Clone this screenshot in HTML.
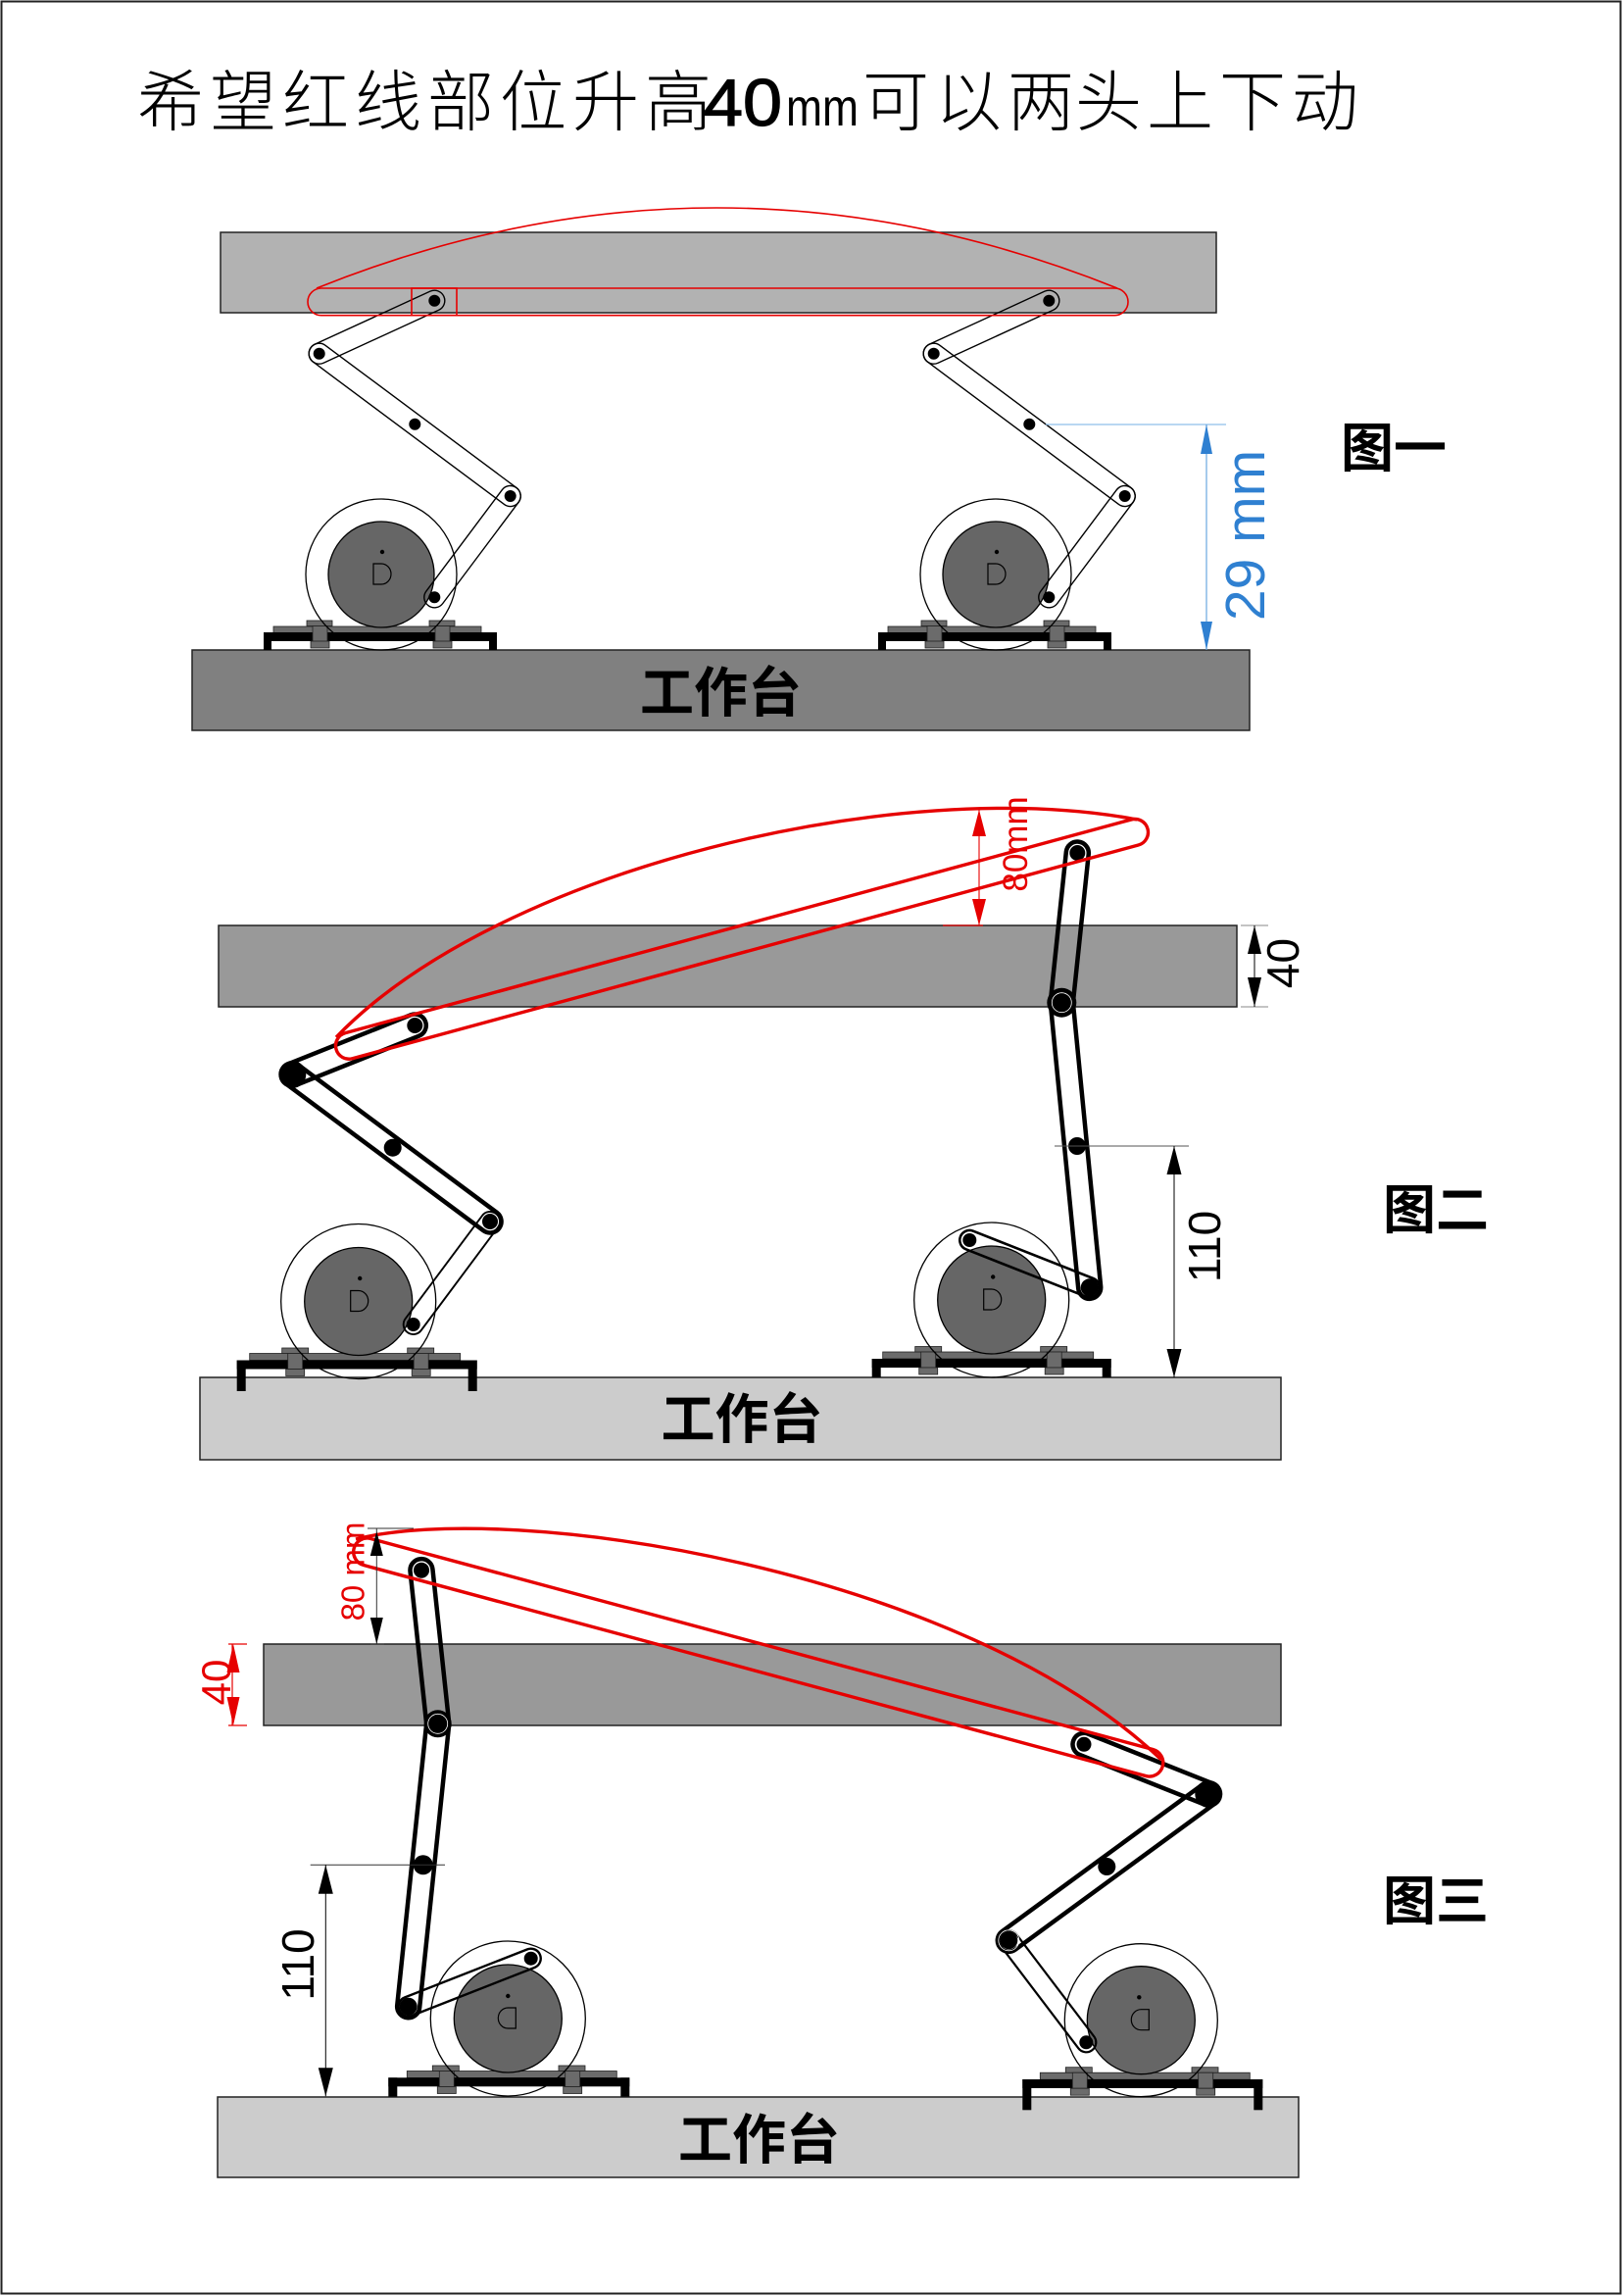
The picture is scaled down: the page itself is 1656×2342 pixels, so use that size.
<!DOCTYPE html>
<html><head><meta charset="utf-8">
<style>html,body{margin:0;padding:0;background:#fff}svg{display:block}</style>
</head>
<body>
<svg xmlns="http://www.w3.org/2000/svg" width="1656" height="2342" viewBox="0 0 1656 2342">
<rect width="1656" height="2342" fill="#fff"/>
<rect x="1.5" y="1.5" width="1652" height="2338" fill="none" stroke="#222" stroke-width="2"/>

<!-- TITLE -->
<g font-family="'Liberation Sans','Noto Sans CJK SC',sans-serif" fill="#000">
<text x="140 214 288 362 436 510 584 658" y="128" font-size="68" font-weight="300">希望红线部位升高</text>
<text x="718" y="128" font-size="68" font-weight="normal" textLength="80" lengthAdjust="spacingAndGlyphs" stroke="#000" stroke-width="1.2">40</text>
<text x="802" y="128" font-size="54" textLength="74" lengthAdjust="spacingAndGlyphs">mm</text>
<text x="880 954 1028 1097 1170 1244 1318" y="128" font-size="68" font-weight="300">可以两头上下动</text>
</g>

<!-- ================= FIG 1 ================= -->
<rect x="225" y="237" width="1016" height="82" fill="#b2b2b2" stroke="#222" stroke-width="1.5"/>
<rect x="196" y="663" width="1079" height="82" fill="#808080" stroke="#222" stroke-width="1.5"/>

<!-- wheels fig1 -->
<g transform="translate(389,586)">
 <rect x="-110" y="53" width="212" height="7" fill="#6b6b6b" stroke="#222" stroke-width="0.8"/>
 <circle r="54" fill="#666" stroke="#000" stroke-width="1.3"/>
 <circle cx="1" cy="-23" r="2.2"/>
 <path d="M-8,-11 H0 A10 10.5 0 0 1 0,10 H-8 Z" fill="none" stroke="#000" stroke-width="1.2"/>
 <rect x="-120" y="59" width="238" height="9" fill="#000"/>
 <rect x="-120" y="59" width="8" height="18" fill="#000"/>
 <rect x="110" y="59" width="8" height="18" fill="#000"/>
 <g fill="#6b6b6b" stroke="#222" stroke-width="0.8">
  <rect x="-76" y="47" width="26" height="5.5"/><rect x="-70" y="52.5" width="15" height="16"/><rect x="-72" y="68" width="19" height="7"/>
  <rect x="49" y="47" width="26" height="5.5"/><rect x="55" y="52.5" width="15" height="16"/><rect x="53" y="68" width="19" height="7"/>
 </g>
 <circle r="77" fill="none" stroke="#000" stroke-width="1.3"/>
</g>
<g transform="translate(1016,586)">
 <rect x="-110" y="53" width="212" height="7" fill="#6b6b6b" stroke="#222" stroke-width="0.8"/>
 <circle r="54" fill="#666" stroke="#000" stroke-width="1.3"/>
 <circle cx="1" cy="-23" r="2.2"/>
 <path d="M-8,-11 H0 A10 10.5 0 0 1 0,10 H-8 Z" fill="none" stroke="#000" stroke-width="1.2"/>
 <rect x="-120" y="59" width="238" height="9" fill="#000"/>
 <rect x="-120" y="59" width="8" height="18" fill="#000"/>
 <rect x="110" y="59" width="8" height="18" fill="#000"/>
 <g fill="#6b6b6b" stroke="#222" stroke-width="0.8">
  <rect x="-76" y="47" width="26" height="5.5"/><rect x="-70" y="52.5" width="15" height="16"/><rect x="-72" y="68" width="19" height="7"/>
  <rect x="49" y="47" width="26" height="5.5"/><rect x="55" y="52.5" width="15" height="16"/><rect x="53" y="68" width="19" height="7"/>
 </g>
 <circle r="77" fill="none" stroke="#000" stroke-width="1.3"/>
</g>

<!-- mechanisms fig1 -->
<g>
 <g fill="none" stroke="#000" stroke-width="1.4">
  <rect x="-10.5" y="-10.5" width="150.4" height="21" rx="10.5" transform="translate(325.7,360.7) rotate(-24.66)"/>
  <rect x="-10.5" y="-10.5" width="264.2" height="21" rx="10.5" transform="translate(325.7,360.7) rotate(36.69)"/>
  <rect x="-10.5" y="-10.5" width="150.1" height="21" rx="10.5" transform="translate(520.7,506) rotate(126.84)"/>
 </g>
 <circle cx="443.3" cy="306.7" r="6"/><circle cx="325.7" cy="360.7" r="6"/><circle cx="423.3" cy="432.7" r="6"/>
 <circle cx="520.7" cy="506" r="6"/><circle cx="443.3" cy="609.3" r="6"/>
</g>
<g transform="translate(627,0)">
 <g fill="none" stroke="#000" stroke-width="1.4">
  <rect x="-10.5" y="-10.5" width="150.4" height="21" rx="10.5" transform="translate(325.7,360.7) rotate(-24.66)"/>
  <rect x="-10.5" y="-10.5" width="264.2" height="21" rx="10.5" transform="translate(325.7,360.7) rotate(36.69)"/>
  <rect x="-10.5" y="-10.5" width="150.1" height="21" rx="10.5" transform="translate(520.7,506) rotate(126.84)"/>
 </g>
 <circle cx="443.3" cy="306.7" r="6"/><circle cx="325.7" cy="360.7" r="6"/><circle cx="423.3" cy="432.7" r="6"/>
 <circle cx="520.7" cy="506" r="6"/><circle cx="443.3" cy="609.3" r="6"/>
</g>

<!-- red fig1 -->
<g fill="none" stroke="#e60000" stroke-width="1.6">
 <rect x="314" y="294" width="837" height="27.7" rx="13.85"/>
 <rect x="420" y="294" width="46" height="27.7"/>
 <path d="M323,294 Q731,130 1140,294"/>
</g>

<!-- 29 mm dim -->
<line x1="1067" y1="433" x2="1251" y2="433" stroke="#8fbfea" stroke-width="1.3"/>
<line x1="1231" y1="433" x2="1231" y2="663" stroke="#6aa8e0" stroke-width="1.2"/>
<path d="M1231,433 L1225,463 L1237,463 Z M1231,663 L1225,634 L1237,634 Z" fill="#2f80d1"/>
<text transform="translate(1290,546) rotate(-90)" text-anchor="middle" font-family="'Liberation Sans',sans-serif" font-size="57" fill="#2f80d1">29 mm</text>

<text x="1368" y="476" font-family="'Liberation Sans','Noto Sans CJK SC',sans-serif" font-size="54" font-weight="bold">图一</text>
<text x="735.5" y="726" text-anchor="middle" font-family="'Liberation Sans','Noto Sans CJK SC',sans-serif" font-size="55" font-weight="bold">工作台</text>

<!-- ================= FIG 2 ================= -->
<rect x="223" y="944" width="1039" height="83" fill="#999" stroke="#222" stroke-width="1.5"/>
<rect x="204" y="1405" width="1103" height="84" fill="#ccc" stroke="#222" stroke-width="1.5"/>

<g transform="translate(365.7,1327.5)">
 <rect x="-111" y="53" width="215" height="7" fill="#6b6b6b" stroke="#222" stroke-width="0.8"/>
 <circle r="55" fill="#666" stroke="#000" stroke-width="1.3"/>
 <circle cx="1.5" cy="-23.5" r="2.2"/>
 <path d="M-8,-11 H0 A10 10.5 0 0 1 0,10 H-8 Z" fill="none" stroke="#000" stroke-width="1.2"/>
 <rect x="-124" y="60" width="245" height="9" fill="#000"/>
 <rect x="-124" y="60" width="9" height="31.5" fill="#000"/>
 <rect x="112" y="60" width="9" height="31.5" fill="#000"/>
 <g fill="#6b6b6b" stroke="#222" stroke-width="0.8">
  <rect x="-78" y="47.5" width="27" height="5.5"/><rect x="-72" y="53" width="15" height="16"/><rect x="-74" y="69" width="19" height="7"/>
  <rect x="50" y="47.5" width="27" height="5.5"/><rect x="56.5" y="53" width="15" height="16"/><rect x="54.5" y="69" width="19" height="7"/>
 </g>
 <circle r="79" fill="none" stroke="#000" stroke-width="1.3"/>
</g>
<g transform="translate(1011.7,1326)">
 <rect x="-111" y="53" width="215" height="7" fill="#6b6b6b" stroke="#222" stroke-width="0.8"/>
 <circle r="55" fill="#666" stroke="#000" stroke-width="1.3"/>
 <circle cx="1.5" cy="-23.5" r="2.2"/>
 <path d="M-8,-11 H0 A10 10.5 0 0 1 0,10 H-8 Z" fill="none" stroke="#000" stroke-width="1.2"/>
 <rect x="-122" y="60" width="244" height="9" fill="#000"/>
 <rect x="-122" y="60" width="9" height="19" fill="#000"/>
 <rect x="113" y="60" width="9" height="19" fill="#000"/>
 <g fill="#6b6b6b" stroke="#222" stroke-width="0.8">
  <rect x="-78" y="47.5" width="27" height="5.5"/><rect x="-72" y="53" width="15" height="16"/><rect x="-74" y="69" width="19" height="7"/>
  <rect x="50" y="47.5" width="27" height="5.5"/><rect x="56.5" y="53" width="15" height="16"/><rect x="54.5" y="69" width="19" height="7"/>
 </g>
 <circle r="79" fill="none" stroke="#000" stroke-width="1.3"/>
</g>

<!-- mech fig2 left -->
<g fill="none" stroke="#000">
 <rect x="-11.5" y="-11.5" width="157.6" height="23" rx="11.5" stroke-width="4.5" transform="translate(298.3,1096) rotate(-21.8)"/>
 <rect x="-11.5" y="-11.5" width="274.4" height="23" rx="11.5" stroke-width="4.5" transform="translate(298.3,1096) rotate(36.63)"/>
 <rect x="-10" y="-10" width="151" height="20" rx="10" stroke-width="1.9" transform="translate(500,1246) rotate(126.71)"/>
</g>
<circle cx="423.3" cy="1046" r="8"/>
<circle cx="298.3" cy="1096" r="14"/>
<circle cx="400.7" cy="1170.7" r="9"/>
<circle cx="500" cy="1246" r="8"/>
<circle cx="421.7" cy="1351" r="7"/>

<!-- mech fig2 right -->
<g fill="none" stroke="#000">
 <rect x="-11.5" y="-11.5" width="176.5" height="23" rx="11.5" stroke-width="4.5" transform="translate(1083.3,1022.7) rotate(-84.02)"/>
 <rect x="-11.5" y="-11.5" width="315" height="23" rx="11.5" stroke-width="4.5" transform="translate(1083.3,1022.7) rotate(84.42)"/>
 <rect x="-10" y="-10" width="151.6" height="20" rx="10" stroke-width="2.6" transform="translate(1111.7,1313.3) rotate(-158.47)"/>
</g>
<circle cx="1099.3" cy="870" r="8"/>
<circle cx="1083.3" cy="1022.7" r="15"/>
<circle cx="1083.3" cy="1022.7" r="10" fill="none" stroke="#fff" stroke-width="0.8"/>
<circle cx="1099" cy="1169" r="9"/>
<circle cx="1111.7" cy="1313.3" r="9"/>
<circle cx="989.3" cy="1265" r="7"/>

<!-- red fig2 -->
<g fill="none" stroke="#e60000" stroke-width="3.4">
 <rect x="-13.5" y="-13.5" width="858" height="27" rx="13.5" transform="translate(356,1066.7) rotate(-15.19)"/>
 <path d="M343,1058 C510,885 920,790 1160,836"/>
</g>
<line x1="962" y1="944" x2="1003" y2="944" stroke="#e60000" stroke-width="1.2"/>
<line x1="999" y1="826" x2="999" y2="944" stroke="#e60000" stroke-width="1.1"/>
<path d="M999,826 L992,853 L1006,853 Z M999,944 L992,917 L1006,917 Z" fill="#e60000"/>
<text transform="translate(1048,861) rotate(-90)" text-anchor="middle" font-family="'Liberation Sans',sans-serif" font-size="35" fill="#e60000">80mm</text>

<!-- 40 dim fig2 -->
<line x1="1266" y1="944" x2="1294" y2="944" stroke="#888" stroke-width="1"/>
<line x1="1266" y1="1027" x2="1294" y2="1027" stroke="#888" stroke-width="1"/>
<line x1="1280" y1="944" x2="1280" y2="1027" stroke="#000" stroke-width="1"/>
<path d="M1280,944 L1273,973 L1287,973 Z M1280,1027 L1273,997 L1287,997 Z" fill="#000"/>
<text transform="translate(1325,982.5) rotate(-90)" text-anchor="middle" font-family="'Liberation Sans',sans-serif" font-size="46" fill="#000">40</text>

<!-- 110 dim fig2 -->
<line x1="1076" y1="1169" x2="1213" y2="1169" stroke="#555" stroke-width="1"/>
<line x1="1198" y1="1169" x2="1198" y2="1405" stroke="#000" stroke-width="1"/>
<path d="M1198,1169 L1190.5,1198 L1205.5,1198 Z M1198,1405 L1190.5,1376 L1205.5,1376 Z" fill="#000"/>
<text transform="translate(1245,1271.5) rotate(-90)" text-anchor="middle" font-family="'Liberation Sans',sans-serif" font-size="46" fill="#000">110</text>

<text x="1411" y="1253" font-family="'Liberation Sans','Noto Sans CJK SC',sans-serif" font-size="54" font-weight="bold">图二</text>
<text x="757" y="1467" text-anchor="middle" font-family="'Liberation Sans','Noto Sans CJK SC',sans-serif" font-size="55" font-weight="bold">工作台</text>

<!-- ================= FIG 3 ================= -->
<rect x="269" y="1677" width="1038" height="83" fill="#999" stroke="#222" stroke-width="1.5"/>
<rect x="222" y="2139" width="1103" height="82" fill="#ccc" stroke="#222" stroke-width="1.5"/>

<g transform="translate(518.3,2059)">
 <rect x="-103" y="53.5" width="214" height="7" fill="#6b6b6b" stroke="#222" stroke-width="0.8"/>
 <circle r="55" fill="#666" stroke="#000" stroke-width="1.3"/>
 <circle cx="0" cy="-23" r="2.2"/>
 <path d="M8,-11 H0 A10 10.5 0 0 0 0,10 H8 Z" fill="none" stroke="#000" stroke-width="1.2"/>
 <rect x="-122" y="60.3" width="246" height="9" fill="#000"/>
 <rect x="-122" y="60.3" width="9" height="19.3" fill="#000"/>
 <rect x="115" y="60.3" width="9" height="19.3" fill="#000"/>
 <g fill="#6b6b6b" stroke="#222" stroke-width="0.8">
  <rect x="-77" y="48" width="27" height="5.5"/><rect x="-70" y="53.5" width="15" height="16"/><rect x="-72" y="69.5" width="19" height="7"/>
  <rect x="51.7" y="48" width="27" height="5.5"/><rect x="58.4" y="53.5" width="15" height="16"/><rect x="56.4" y="69.5" width="19" height="7"/>
 </g>
 <circle r="79" fill="none" stroke="#000" stroke-width="1.3"/>
</g>
<g transform="translate(1164.3,2060.7)">
 <rect x="-103" y="53.5" width="214" height="7" fill="#6b6b6b" stroke="#222" stroke-width="0.8"/>
 <circle r="55" fill="#666" stroke="#000" stroke-width="1.3"/>
 <circle cx="-2" cy="-23.4" r="2.2"/>
 <path d="M8,-11 H0 A10 10.5 0 0 0 0,10 H8 Z" fill="none" stroke="#000" stroke-width="1.2"/>
 <rect x="-121" y="60.3" width="245" height="9" fill="#000"/>
 <rect x="-121" y="60.3" width="9" height="31.3" fill="#000"/>
 <rect x="115" y="60.3" width="9" height="31.3" fill="#000"/>
 <g fill="#6b6b6b" stroke="#222" stroke-width="0.8">
  <rect x="-77" y="48" width="27" height="5.5"/><rect x="-70" y="53.5" width="15" height="16"/><rect x="-72" y="69.5" width="19" height="7"/>
  <rect x="51.7" y="48" width="27" height="5.5"/><rect x="58.4" y="53.5" width="15" height="16"/><rect x="56.4" y="69.5" width="19" height="7"/>
 </g>
 <circle r="78" fill="none" stroke="#000" stroke-width="1.3"/>
</g>

<!-- mech fig3 left -->
<g fill="none" stroke="#000">
 <rect x="-11.5" y="-11.5" width="180.5" height="23" rx="11.5" stroke-width="4.5" transform="translate(446.7,1758.3) rotate(-96.09)"/>
 <rect x="-11.5" y="-11.5" width="313" height="23" rx="11.5" stroke-width="4.5" transform="translate(446.7,1758.3) rotate(95.94)"/>
 <rect x="-10" y="-10" width="154.3" height="20" rx="10" stroke-width="2.4" transform="translate(416.7,2046.7) rotate(-21.41)"/>
</g>
<circle cx="430" cy="1601.7" r="8"/>
<circle cx="446.7" cy="1758.3" r="14"/>
<circle cx="446.7" cy="1758.3" r="10" fill="none" stroke="#fff" stroke-width="0.8"/>
<circle cx="431.7" cy="1902.3" r="10"/>
<circle cx="416.7" cy="2046.7" r="9"/>
<circle cx="541.7" cy="1997.7" r="7"/>

<!-- mech fig3 right -->
<g fill="none" stroke="#000">
 <rect x="-11.5" y="-11.5" width="160" height="23" rx="11.5" stroke-width="4.5" transform="translate(1233.3,1830) rotate(-158.28)"/>
 <rect x="-11.5" y="-11.5" width="275.8" height="23" rx="11.5" stroke-width="4.5" transform="translate(1233.3,1830) rotate(143.8)"/>
 <rect x="-10" y="-10" width="150.6" height="20" rx="10" stroke-width="2.2" transform="translate(1029.3,1979.3) rotate(52.78)"/>
</g>
<circle cx="1106" cy="1779.3" r="7.5"/>
<circle cx="1233.3" cy="1830" r="14"/>
<circle cx="1129.3" cy="1904" r="9"/>
<circle cx="1029.3" cy="1979.3" r="9"/>
<circle cx="1029.3" cy="1979.3" r="10.5" fill="none" stroke="#fff" stroke-width="0.8"/>
<circle cx="1108.3" cy="2083.3" r="7"/>

<!-- red fig3 -->
<g fill="none" stroke="#e60000" stroke-width="3.4">
 <rect x="-14" y="-14" width="854.5" height="28" rx="14" transform="translate(374.7,1583) rotate(15.08)"/>
 <path d="M363,1570 C520,1530 980,1600 1185,1795"/>
</g>

<!-- 80 mm dim fig3 -->
<line x1="375" y1="1559" x2="422" y2="1559" stroke="#333" stroke-width="1"/>
<line x1="378" y1="1677" x2="392" y2="1677" stroke="#333" stroke-width="1"/>
<line x1="384.3" y1="1559" x2="384.3" y2="1677" stroke="#333" stroke-width="1"/>
<path d="M384.3,1562 L377.8,1587 L390.8,1587 Z M384.3,1677 L377.8,1650 L390.8,1650 Z" fill="#000"/>
<text transform="translate(371.7,1603) rotate(-90)" text-anchor="middle" font-family="'Liberation Sans',sans-serif" font-size="33" fill="#e60000">80 mm</text>

<!-- red 40 fig3 -->
<g stroke="#e60000" stroke-width="1.2">
 <line x1="233" y1="1677" x2="252" y2="1677"/>
 <line x1="233" y1="1760" x2="252" y2="1760"/>
 <line x1="237" y1="1677" x2="237" y2="1760"/>
</g>
<path d="M238,1677 L231.5,1706 L244.5,1706 Z M238,1760 L231.5,1731 L244.5,1731 Z" fill="#e60000"/>
<text transform="translate(235,1716) rotate(-90)" text-anchor="middle" font-family="'Liberation Sans',sans-serif" font-size="42" fill="#e60000">40</text>

<!-- 110 dim fig3 -->
<line x1="316.7" y1="1902.3" x2="454" y2="1902.3" stroke="#333" stroke-width="1"/>
<line x1="332.3" y1="1902.3" x2="332.3" y2="2138.3" stroke="#000" stroke-width="1"/>
<path d="M332.3,1902.3 L324.8,1931.7 L339.8,1931.7 Z M332.3,2138.3 L324.8,2109.3 L339.8,2109.3 Z" fill="#000"/>
<text transform="translate(320,2004) rotate(-90)" text-anchor="middle" font-family="'Liberation Sans',sans-serif" font-size="46" fill="#000">110</text>

<text x="1411" y="1958" font-family="'Liberation Sans','Noto Sans CJK SC',sans-serif" font-size="54" font-weight="bold">图三</text>
<text x="774.5" y="2202" text-anchor="middle" font-family="'Liberation Sans','Noto Sans CJK SC',sans-serif" font-size="55" font-weight="bold">工作台</text>

</svg>
</body></html>
